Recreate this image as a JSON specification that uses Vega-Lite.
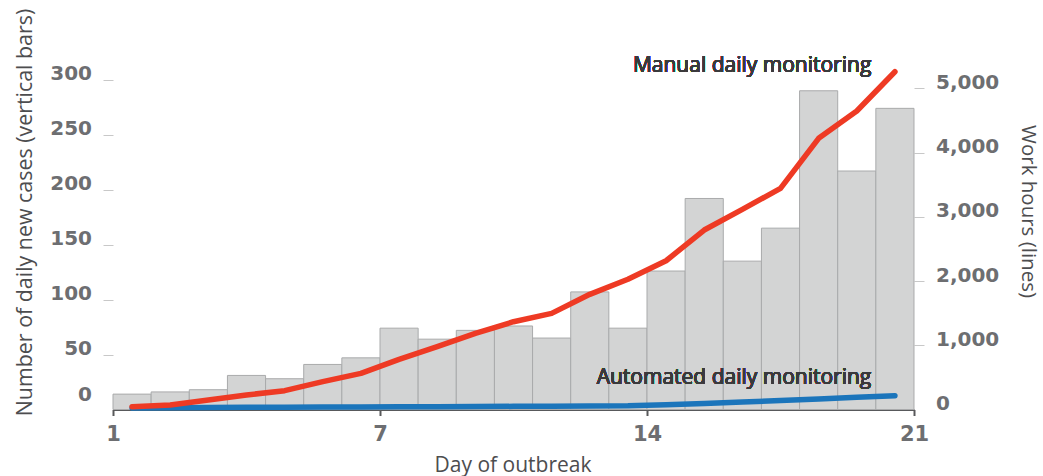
{
  "$schema": "https://vega.github.io/schema/vega-lite/v6.json",
  "width": 801,
  "height": 349.5,
  "autosize": "none",
  "padding": {"left": 113, "top": 60, "right": 129, "bottom": 66.5},
  "background": "white",
  "config": {"view": {"stroke": null}},
  "data": {
    "values": [
      {"day": 1, "cases": 14, "manual": 44, "automated": 25},
      {"day": 2, "cases": 16, "manual": 70, "automated": 28},
      {"day": 3, "cases": 18, "manual": 148, "automated": 31},
      {"day": 4, "cases": 31, "manual": 226, "automated": 34},
      {"day": 5, "cases": 28, "manual": 293, "automated": 36},
      {"day": 6, "cases": 41, "manual": 433, "automated": 38},
      {"day": 7, "cases": 47, "manual": 563, "automated": 40},
      {"day": 8, "cases": 74, "manual": 781, "automated": 42},
      {"day": 9, "cases": 64, "manual": 978, "automated": 44},
      {"day": 10, "cases": 72, "manual": 1186, "automated": 46},
      {"day": 11, "cases": 76, "manual": 1367, "automated": 49},
      {"day": 12, "cases": 65, "manual": 1497, "automated": 52},
      {"day": 13, "cases": 107, "manual": 1793, "automated": 55},
      {"day": 14, "cases": 74, "manual": 2027, "automated": 58},
      {"day": 15, "cases": 126, "manual": 2316, "automated": 75},
      {"day": 16, "cases": 192, "manual": 2794, "automated": 95},
      {"day": 17, "cases": 135, "manual": 3116, "automated": 115},
      {"day": 18, "cases": 165, "manual": 3443, "automated": 140},
      {"day": 19, "cases": 290, "manual": 4222, "automated": 165},
      {"day": 20, "cases": 217, "manual": 4647, "automated": 190},
      {"day": 21, "cases": 274, "manual": 5258, "automated": 215}
    ]
  },
  "layer": [
    {
      "layer": [
        {
          "mark": {"type": "bar", "width": 38.14, "fill": "#d3d4d4", "stroke": "#a9aaab", "strokeWidth": 1},
          "encoding": {
            "x": {
              "field": "day", "type": "quantitative",
              "scale": {"domain": [0.5, 21.5], "nice": false, "zero": false, "padding": 0},
              "axis": {
                "values": [0.5, 7.5, 14.5, 21.5],
                "labelExpr": "datum.value < 1 ? '1' : format(datum.value - 0.5, 'd')",
                "labelFlush": false,
                "grid": false,
                "domainColor": "#58595b", "domainWidth": 2,
                "tickColor": "#58595b", "tickWidth": 2, "tickSize": 6,
                "labelFont": "DejaVu Sans", "labelFontWeight": "bold", "labelFontSize": 21,
                "labelColor": "#6d6e71", "labelPadding": 8,
                "title": "Day of outbreak",
                "titleFont": "Open Sans", "titleFontSize": 21, "titleFontWeight": "normal",
                "titleColor": "#4d4d4f", "titleX": 399.5, "titleY": 61.5, "titleBaseline": "alphabetic"
              }
            },
            "y": {
              "field": "cases", "type": "quantitative",
              "scale": {"domain": [0, 318], "nice": false, "padding": 0},
              "axis": {
                "orient": "left",
                "values": [0, 50, 100, 150, 200, 250, 300],
                "grid": false, "domain": false,
                "tickColor": "#c8c8c8", "tickSize": 10, "tickWidth": 1,
                "tickOpacity": {"condition": {"test": "datum.value === 0", "value": 0}, "value": 1},
                "labelOffset": {"condition": {"test": "datum.value === 0", "value": -9.5}, "value": 0},
                "labelBaseline": "alphabetic",
                "labelFont": "DejaVu Sans", "labelFontWeight": "bold", "labelFontSize": 20,
                "labelColor": "#6d6e71", "labelPadding": 11.5,
                "title": "Number of daily new cases (vertical bars)",
                "titleFont": "Open Sans", "titleFontSize": 21.4, "titleFontWeight": "normal",
                "titleColor": "#4d4d4f", "titleX": -82, "titleY": 152, "titleBaseline": "alphabetic", "titleAngle": -90
              }
            }
          }
        },
        {
          "mark": {"type": "text", "align": "right", "baseline": "middle", "font": "Open Sans", "fontSize": 21, "color": "#3a3a3c"},
          "encoding": {
            "x": {"datum": 20.38, "type": "quantitative"},
            "y": {"datum": 312.6, "type": "quantitative"},
            "text": {"value": "Manual daily monitoring"}
          }
        },
        {
          "mark": {"type": "text", "align": "right", "baseline": "middle", "font": "Open Sans", "fontSize": 21, "color": "#3a3a3c"},
          "encoding": {
            "x": {"datum": 20.38, "type": "quantitative"},
            "y": {"datum": 29, "type": "quantitative"},
            "text": {"value": "Automated daily monitoring"}
          }
        }
      ]
    },
    {
      "transform": [{"fold": ["automated", "manual"], "as": ["series", "hours"]}],
      "mark": {"type": "line", "strokeWidth": 5.5, "strokeCap": "round", "strokeJoin": "round"},
      "encoding": {
        "x": {"field": "day", "type": "quantitative"},
        "y": {
          "field": "hours", "type": "quantitative",
          "scale": {"domain": [0, 5441], "nice": false},
          "axis": {
            "orient": "right",
            "values": [0, 1000, 2000, 3000, 4000, 5000],
            "format": ",d",
            "grid": false, "domain": false,
            "tickColor": "#c8c8c8", "tickSize": 10, "tickWidth": 1,
            "tickOpacity": {"condition": {"test": "datum.value === 0", "value": 0}, "value": 1},
            "labelBaseline": "alphabetic",
            "labelFont": "DejaVu Sans", "labelFontWeight": "bold", "labelFontSize": 20,
            "labelColor": "#6d6e71", "labelPadding": 11.5,
            "title": "Work hours (lines)",
            "titleFont": "Open Sans", "titleFontSize": 20.5, "titleFontWeight": "normal",
            "titleColor": "#4d4d4f", "titleX": 107.5, "titleY": 151, "titleBaseline": "alphabetic", "titleAngle": 90
          }
        },
        "color": {
          "field": "series", "type": "nominal",
          "scale": {"domain": ["automated", "manual"], "range": ["#1b75bb", "#ee3a24"]},
          "legend": null
        }
      }
    }
  ],
  "resolve": {"scale": {"y": "independent"}}
}
